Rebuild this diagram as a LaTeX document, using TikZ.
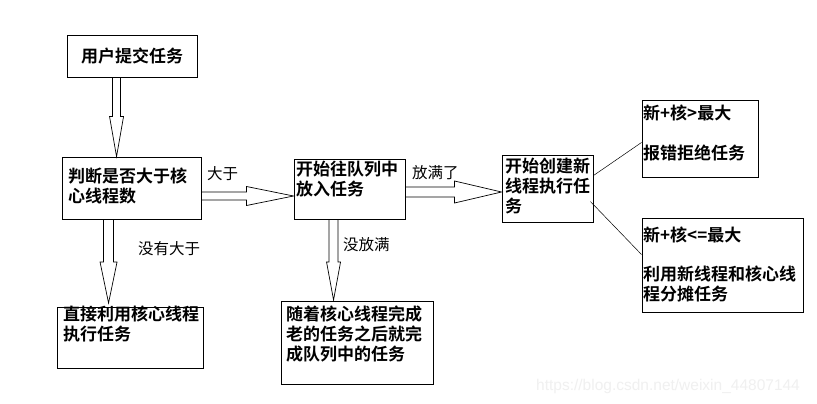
\documentclass[tikz,border=0pt]{standalone}
\usepackage{fontspec}
\setmainfont{Liberation Sans}
\newfontfamily\cjkb{Noto Sans CJK SC Bold}
\newfontfamily\cjk{Noto Sans CJK SC}
\usetikzlibrary{calc}
\tikzset{
  box/.style={draw=black, line width=0.9pt, inner sep=0pt},
  txt/.style={inner sep=0pt, anchor=north west, align=left, font=\cjkb\fontsize{17}{20}\selectfont},
  lbl/.style={inner sep=0pt, font=\cjk\fontsize{15.5}{17}\selectfont},
  blk/.style={draw=black, line width=0.7pt, line join=miter},
  thin/.style={draw=black, line width=0.5pt}
}
\newcommand\vblock[5]{\draw[blk] let \p1=(#1), \p2=(#2) in
  (\x1-#3,\y1) -- (\x1-#3,\y2+#5) -- (\x1-#4,\y2+#5) -- (\x1,\y2) -- (\x1+#4,\y2+#5) -- (\x1+#3,\y2+#5) -- (\x1+#3,\y1);}
\newcommand\hblock[5]{\draw[blk] let \p1=(#1), \p2=(#2) in
  (\x1,\y1+#3) -- (\x2-#5,\y1+#3) -- (\x2-#5,\y1+#4) -- (\x2,\y1) -- (\x2-#5,\y1-#4) -- (\x2-#5,\y1-#3) -- (\x1,\y1-#3);}
\begin{document}
\begin{tikzpicture}[x=1pt,y=-1pt]
\useasboundingbox[fill=white] (0,0) rectangle (817,404);
% boxes
\node[box, minimum width=130pt, minimum height=42pt] (user) at (132,56) {};
\node[box, minimum width=139pt, minimum height=62pt] (judge) at (131.5,188) {};
\node[box, minimum width=111pt, minimum height=60pt] (queue) at (349.5,189) {};
\node[box, minimum width=91pt, minimum height=67pt] (create) at (547.5,188.5) {};
\node[box, minimum width=116pt, minimum height=77pt] (gt) at (700,138.5) {};
\node[box, minimum width=161pt, minimum height=94pt] (le) at (722.5,265) {};
\node[box, minimum width=146pt, minimum height=61pt] (direct) at (130,337.5) {};
\node[box, minimum width=152pt, minimum height=83pt] (follow) at (357,342.5) {};
% texts
\node[inner sep=0pt, font=\cjkb\fontsize{17}{20}\selectfont] (tuser) at (user.center) {用户提交任务};
\node[txt] (tjudge) at (68,168) {判断是否大于核\\心线程数};
\node[txt] (tqueue) at (296,161) {开始往队列中\\放入任务};
\node[txt] (tcreate) at (505,158) {开始创建新\\线程执行任\\务};
\node[txt] (tgt1) at (643,105) {新+核>最大};
\node[txt] (tgt2) at (643,145) {报错拒绝任务};
\node[txt] (tle1) at (643,227) {新+核<=最大};
\node[txt] (tle2) at (643,266) {利用新线程和核心线\\程分摊任务};
\node[txt] (tdirect) at (63,306) {直接利用核心线程\\执行任务};
\node[txt] (tfollow) at (286,306) {随着核心线程完成\\老的任务之后就完\\成队列中的任务};
% labels
\node[lbl, anchor=west] (l1) at (207,174) {大于};
\node[lbl, anchor=west] (l2) at (412,173) {放满了};
\node[lbl, anchor=west] (l3) at (138,249) {没有大于};
\node[lbl, anchor=west] (l4) at (343,245) {没放满};
% arrows
\coordinate (a1s) at ($(user.south west)+(50,0)$);
\coordinate (a1e) at ($(judge.north west)+(55,0)$);
\vblock{a1s}{a1e}{4pt}{7pt}{40pt}
\coordinate (a2s) at ($(judge.south west)+(47,0)$);
\coordinate (a2e) at (109,303);
\vblock{a2s}{a2e}{5pt}{8.5pt}{41pt}
\coordinate (a3s) at ($(queue.south west)+(40,0)$);
\coordinate (a3e) at (334,300);
\vblock{a3s}{a3e}{4.5pt}{7pt}{38pt}
\coordinate (a4s) at (201,196);
\coordinate (a4e) at ($(queue.west)+(0,7)$);
\hblock{a4s}{a4e}{4pt}{9.5pt}{47pt}
\coordinate (a5s) at (405,192);
\coordinate (a5e) at ($(create.west)+(0,3.5)$);
\hblock{a5s}{a5e}{5pt}{11pt}{47pt}
% thin lines
\draw[thin] ($(create.north east)+(0,21)$) -- ($(gt.south west)+(0,-35)$);
\draw[thin] ($(create.north east)+(-3,47)$) -- ($(le.north west)+(0,37)$);
% watermark
\node[inner sep=0pt, anchor=west, text=black!6, font=\fontsize{15.5}{17}\selectfont] (wm) at (536,386) {https://blog.csdn.net/weixin\_44807144};
\end{tikzpicture}
\end{document}
